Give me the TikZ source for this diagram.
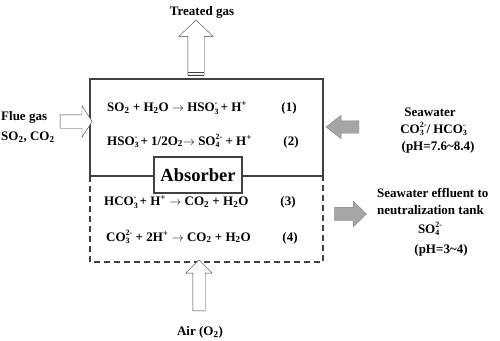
\documentclass[tikz,border=0pt]{standalone}
\usepackage{fontspec}
\setmainfont{Liberation Serif}
\usepackage{tikz}
\usetikzlibrary{positioning, shapes.arrows}
\definecolor{arrowgray}{HTML}{A6A6A6}
\definecolor{linegray}{HTML}{404040}
\newcommand{\smallidx}{\fontsize{8}{8}\selectfont}
\newcommand{\subsup}[2]{\rlap{\raisebox{-2.8pt}{\smallidx #1}}\raisebox{5.6pt}{\smallidx #2}}
\tikzset{
	textnode/.style={
			inner sep=0pt,
			font=\fontsize{13}{15}\selectfont\bfseries
		},
	eqnode/.style={
			textnode,
			anchor=west
		},
	absorbernode/.style={
			draw=linegray,
			line width=1.1pt,
			fill=white,
			minimum width=88pt,
			minimum height=36pt,
			inner sep=0pt,
			font=\fontsize{18.5}{20}\selectfont\bfseries
		},
	hollowarrow/.style={
			single arrow,
			draw=linegray,
			fill=white,
			thin,
			inner xsep=0pt
		},
	grayarrow/.style={
			single arrow,
			draw=gray,
			fill=arrowgray,
			thin,
			inner xsep=0pt
		}
}

\begin{document}
\begin{tikzpicture}[x=1pt, y=-1pt]
\useasboundingbox (0,0) rectangle (500,340);

% absorber vessel
\draw[linegray, line width=1.2pt] (90,176) -- (90,79) -- (323,79) -- (323,176) -- cycle;
\draw[linegray, line width=1.2pt, dash pattern=on 6pt off 4pt] (90,176) -- (90,262) -- (323,262) -- (323,176);
\node[absorbernode] (absorber) at (198,175) {Absorber};

% reactions
\node[eqnode] (eqA) at (107,108) {SO\textsubscript{2} + H\textsubscript{2}O $\rightarrow$ HSO\subsup{3}{-} + H\textsuperscript{+}};
\node[eqnode] (eqB) at (107,141) {HSO\subsup{3}{-} + 1/2O\textsubscript{2}$\rightarrow$ SO\subsup{4}{2-} + H\textsuperscript{+}};
\node[eqnode] (eqC) at (104,202) {HCO\subsup{3}{-} + H\textsuperscript{+} $\rightarrow$ CO\textsubscript{2} + H\textsubscript{2}O};
\node[eqnode] (eqD) at (106,237) {CO\subsup{3}{2-} + 2H\textsuperscript{+} $\rightarrow$ CO\textsubscript{2} + H\textsubscript{2}O};
\node[textnode] (numA) at (289,108) {(1)};
\node[textnode] (numB) at (291,142) {(2)};
\node[textnode] (numC) at (288,202) {(3)};
\node[textnode] (numD) at (290,238) {(4)};

% streams
\node[hollowarrow, rotate=90, minimum height=55pt, inner ysep=8pt,
  single arrow head extend=9pt, single arrow tip angle=93] (outArrow) at (196,51.5) {};
\draw[linegray] (188,72) -- (204,72);
\draw[linegray] (188,75) -- (204,75);
\node[textnode] (treated) at (202,12) {Treated gas};

\node[hollowarrow, minimum height=32pt, inner ysep=6.5pt,
  single arrow head extend=9pt, single arrow tip angle=114] (flueArrow) at (74,121.5) {};
\node[textnode, anchor=west] (flue) at (1,117) {Flue gas};
\node[textnode, anchor=west] (flueGas) at (1,137) {SO\textsubscript{2}, CO\textsubscript{2}};

\node[grayarrow, rotate=180, minimum height=33pt, inner ysep=6pt,
  single arrow head extend=5.5pt, single arrow tip angle=75] (seaArrow) at (346.5,127) {};
\node[textnode] (sea) at (430,112) {Seawater};
\node[textnode] (seaIons) at (433,129) {CO\subsup{3}{2-}/ HCO\subsup{3}{-}};
\node[textnode] (seaPh) at (438,147) {(pH=7.6\textasciitilde 8.4)};

\node[grayarrow, minimum height=32pt, inner ysep=6.5pt,
  single arrow head extend=6pt, single arrow tip angle=88] (effArrow) at (347,214) {};
\node[textnode, anchor=west] (eff) at (377,193) {Seawater effluent to};
\node[textnode, anchor=west] (effTank) at (377,210) {neutralization tank};
\node[textnode] (effIon) at (430,229) {SO\subsup{4}{2-}};
\node[textnode] (effPh) at (441,250) {(pH=3\textasciitilde 4)};

\node[hollowarrow, rotate=90, minimum height=51pt, inner ysep=6pt,
  single arrow head extend=7pt, single arrow tip angle=90] (airArrow) at (199,288.5) {};
\node[textnode] (air) at (200,332) {Air (O\textsubscript{2})};

\end{tikzpicture}
\end{document}
